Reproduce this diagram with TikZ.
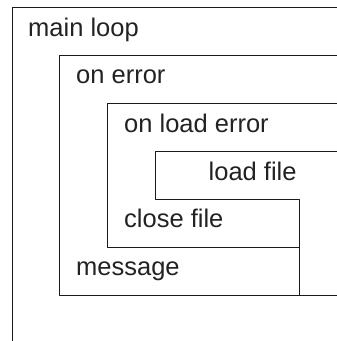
\documentclass[tikz,border=0pt]{standalone}
\usepackage{fontspec}
\setmainfont{Liberation Sans}
\usetikzlibrary{arrows}
\definecolor{lbl}{HTML}{222222}
\definecolor{frame}{HTML}{1A1A1A}
\begin{document}
\begin{tikzpicture}[line cap=round,line join=round,x=1pt,y=-1pt]
				\useasboundingbox (0,0) rectangle (337,341);
				\tikzset{lab/.style={anchor=base west,inner sep=0pt,text=lbl,font=\fontsize{25.5}{30}\selectfont}}
				\draw [line width=0.9pt,color=frame] (12,341)-- (12,7)-- (337,7);
				\draw [line width=0.9pt,color=frame] (337,295)-- (59.5,295)-- (59.5,55.3)-- (337,55.3);
				\draw [line width=0.9pt,color=frame] (299.5,247.3)-- (107.3,247.3)-- (107.3,103.6)-- (337,103.6);
				\draw [line width=0.9pt,color=frame] (337,151.8)-- (155.5,151.8)-- (155.5,199.2)-- (299.5,199.2)-- (299.5,295);
				\draw (28,36) node[lab] (mainloop) {main loop};
				\draw (76,83.5) node[lab] (onerror) {on error};
				\draw (124,132) node[lab] (onloaderror) {on load error};
				\draw (208.5,180) node[lab] (loadfile) {load file};
				\draw (124,227.5) node[lab] (closefile) {close file};
				\draw (76,275.5) node[lab] (message) {message};
			\end{tikzpicture}
\end{document}
